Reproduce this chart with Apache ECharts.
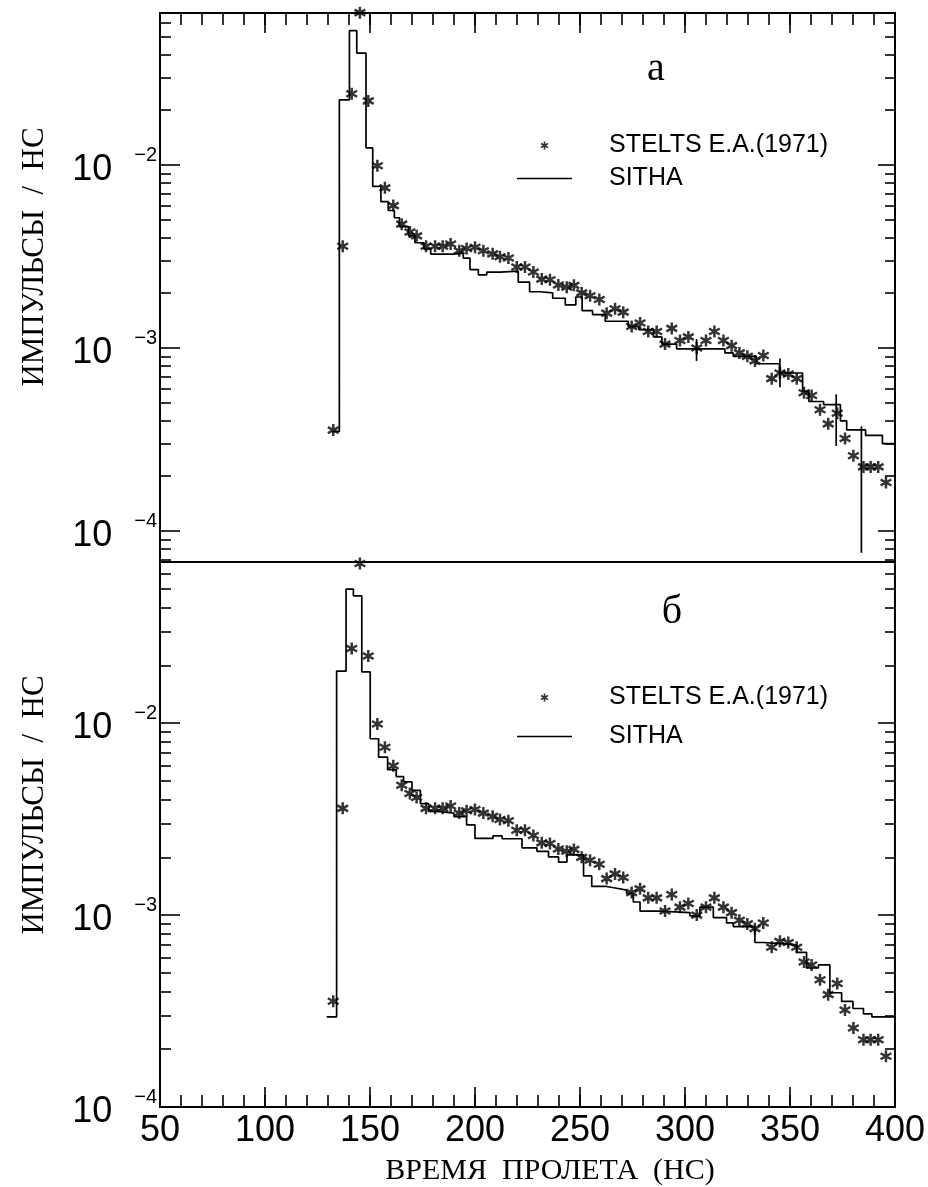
<!DOCTYPE html>
<html>
<head>
<meta charset="utf-8">
<script src="https://cdn.jsdelivr.net/npm/echarts@6.0.0/dist/echarts.min.js"></script>
<style>
  html, body { margin: 0; padding: 0; background: #fff; }
  #main { width: 928px; height: 1187px; }
</style>
</head>
<body>
<div id="main"></div>
<script>
// STELTS E.A.(1971): the same measured points are drawn in both panels
const stelTime = [132.5, 137, 141.3, 145.2, 149.2, 153.5, 157.1, 161.1, 165.1, 169,
  172.2, 176.7, 181, 184.6, 188.4, 192.5, 196, 200, 204, 208.4,
  211.9, 215.9, 219.9, 223.8, 227.8, 231.8, 235.7, 239.7, 243.7, 247.1,
  250.8, 254.8, 259.2, 262.7, 266.7, 270.6, 274.6, 278.6, 282.5, 286.5,
  290.5, 293.7, 297.6, 301.6, 305.6, 310, 314, 318.3, 322.2, 325.9,
  329.7, 333.3, 337.3, 341.3, 345.2, 349.2, 353.2, 356.7, 360.3, 364.3,
  368.2, 372.5, 376.2, 380.2, 385, 388.4, 392, 395.7];
const stelRate = [3.56e-4, 3.6e-3, 0.0245, 0.068, 0.0224, 0.0099, 0.0075, 0.0060, 0.00475, 0.0043,
  0.0041, 0.0036, 0.0036, 0.0036, 0.0037, 0.0034, 0.0035, 0.00355, 0.0034, 0.00327,
  0.00315, 0.0031, 0.00277, 0.00277, 0.0026, 0.00238, 0.00236, 0.00221, 0.00215, 0.0022,
  0.002, 0.00193, 0.00184, 0.00155, 0.00164, 0.00157, 0.00131, 0.00137, 0.00123, 0.00123,
  0.00105, 0.00128, 0.0011, 0.00115, 0.001, 0.0011, 0.00123, 0.0011, 0.00103, 0.00094,
  0.0009, 0.00085, 0.00091, 0.00068, 0.00073, 0.00072, 0.00068, 0.00057, 0.00055, 0.00046,
  0.000385, 0.00044, 0.00032, 0.000258, 0.000224, 0.000224, 0.000224, 0.000184];

// SITHA, panel a: bin edges (ns) and bin contents
const sithaEdgesA = [132, 135.4, 140.2, 143.7, 148.1, 151.3, 155.2, 158.7, 161.6, 164,
  168.3, 171.4, 175.7, 178.9, 189.7, 194.4, 197.6, 201.6, 205.6, 212,
  220.6, 226, 231, 237, 243, 248, 251, 256, 262, 273,
  278, 285, 289, 296, 319, 323, 334, 345, 356, 359,
  366, 374, 377, 386, 394, 400];
const sithaRateA = [3.5e-4, 0.0227, 0.0542, 0.0409, 0.0124, 0.00764, 0.0063, 0.00564, 0.00515, 0.0046,
  0.0041, 0.00376, 0.00347, 0.00326, 0.0033, 0.0031, 0.00268, 0.00251, 0.0026, 0.00263,
  0.00229, 0.00203, 0.0020, 0.00187, 0.00172, 0.0019, 0.0016, 0.00152, 0.0014, 0.00131,
  0.00126, 0.00115, 0.00105, 0.00099, 0.00094, 0.0009, 0.00082, 0.00073, 0.00058, 0.00051,
  0.00049, 0.0004, 0.000357, 0.000333, 0.0003];

// SITHA error bars, panel a
const errTimeA = [305.5, 345.2, 372, 384];
const errLowA = [0.00085, 0.00061, 0.000292, 0.000076];
const errHighA = [0.00112, 0.000875, 0.000558, 0.000373];

// SITHA, panel б
const sithaEdgesB = [129.4, 134.1, 138.6, 142.1, 146.1, 150.1, 154.1, 158.4, 162.5, 166,
  170, 174, 178, 182, 190, 196, 200, 208.6, 212.9, 222.4,
  229.5, 235, 239.8, 243.8, 251.7, 255.6, 262.7, 267.5, 272.2, 275.4,
  278.6, 288.1, 302.4, 307.1, 313.5, 319.8, 323, 333.3, 337.3, 345.2,
  353.2, 357.9, 363.5, 369, 374.6, 380, 385, 389, 395, 400];
const sithaRateB = [2.95e-4, 0.0187, 0.050, 0.0461, 0.0185, 0.0083, 0.00665, 0.00573, 0.00527, 0.00495,
  0.00447, 0.00381, 0.00347, 0.0034, 0.00326, 0.00295, 0.00251, 0.00259, 0.0025, 0.00224,
  0.00215, 0.00201, 0.00189, 0.00206, 0.0016, 0.00141, 0.00138, 0.00135, 0.0013, 0.00117,
  0.00105, 0.00103, 0.00099, 0.0011, 0.00097, 0.00091, 0.00087, 0.00072, 0.00071, 0.0007,
  0.00064, 0.00053, 0.00055, 0.000394, 0.000355, 0.000326, 0.000306, 0.000295, 0.000295];

const xRange = [50, 400];
const yRangeA = [6.77e-5, 0.0677];
const yRangeB = [1e-4, 0.0692];

const NUM_FONT = '"Liberation Sans", Arial, sans-serif';
const SERIF = '"Liberation Serif", "Times New Roman", serif';
const INK = '#000';

// asterisk made of three thin bars
function starPath(w) {
  let d = '';
  [90, 30, 150].forEach(deg => {
    const a = deg * Math.PI / 180;
    const c = Math.cos(a) * 5, s = Math.sin(a) * 5;
    const px = -Math.sin(a) * w, py = Math.cos(a) * w;
    const pts = [[c + px, s + py], [-c + px, -s + py], [-c - px, -s - py], [c - px, s - py]];
    d += 'M' + pts.map(p => p[0].toFixed(2) + ',' + p[1].toFixed(2)).join('L') + 'Z';
  });
  return 'path://' + d;
}
const STAR = starPath(1.0);
const DASH = 'path://M0,0H55V1.7H0Z';

function decades(r) {
  const out = [];
  for (let e = -6; e <= 0; e++) {
    const v = Math.pow(10, e);
    if (v >= r[0] * 0.999 && v <= r[1]) out.push(v);
  }
  return out;
}
function minors(r) {
  const out = [];
  for (let e = -6; e <= 0; e++) {
    for (let m = 2; m <= 9; m++) {
      const v = m * Math.pow(10, e);
      if (v > r[0] && v < r[1]) out.push(v);
    }
  }
  return out;
}

function expLabel(v) {
  const e = Math.log10(v);
  const r = Math.round(e);
  if (Math.abs(e - r) > 1e-6) return '';
  return '{b|10}{s|\u2212' + Math.abs(r) + '}';
}

const tickLine = { color: INK, width: 1.6 };

function xAxes(gridIndex, position, withLabels) {
  const base = {
    type: 'value', gridIndex: gridIndex, position: position,
    min: xRange[0], max: xRange[1],
    axisLine: { show: false }, splitLine: { show: false }
  };
  return [
    Object.assign({}, base, {
      interval: 10,
      axisTick: { show: true, inside: true, length: 12, lineStyle: tickLine },
      axisLabel: { show: false }
    }),
    Object.assign({}, base, {
      interval: 50,
      axisTick: { show: true, inside: true, length: 20, lineStyle: tickLine },
      axisLabel: {
        show: withLabels, margin: 6, color: INK, fontFamily: NUM_FONT, fontSize: 36,
        showMinLabel: true, showMaxLabel: true
      }
    })
  ];
}

function yAxes(gridIndex, r) {
  const base = {
    type: 'log', logBase: 10, gridIndex: gridIndex, min: r[0], max: r[1],
    axisLine: { show: false }, splitLine: { show: false }
  };
  const maj = decades(r), mnr = minors(r);
  return [
    Object.assign({}, base, {
      position: 'left',
      axisTick: { show: true, inside: true, length: 20, lineStyle: tickLine, customValues: maj },
      axisLabel: {
        show: true, customValues: maj, margin: 3, formatter: expLabel,
        rich: {
          b: { fontFamily: NUM_FONT, fontSize: 36, lineHeight: 40, color: INK, padding: [10, 0, 0, 0] },
          s: { fontFamily: NUM_FONT, fontSize: 20, lineHeight: 20, color: INK, verticalAlign: 'top', padding: [0, 0, 0, 22] }
        }
      }
    }),
    Object.assign({}, base, {
      position: 'left',
      axisTick: { show: true, inside: true, length: 11, lineStyle: tickLine, customValues: mnr },
      axisLabel: { show: false }
    }),
    Object.assign({}, base, {
      position: 'right',
      axisTick: { show: true, inside: true, length: 17, lineStyle: tickLine, customValues: maj },
      axisLabel: { show: false }
    }),
    Object.assign({}, base, {
      position: 'right',
      axisTick: { show: true, inside: true, length: 10, lineStyle: tickLine, customValues: mnr },
      axisLabel: { show: false }
    })
  ];
}

function stepData(edges, rate) {
  return edges.map((e, i) => [e, rate[Math.min(i, rate.length - 1)]]);
}
const stelPoints = stelTime.map((t, i) => [t, stelRate[i]]);

function legendFor(top, gap) {
  return {
    orient: 'vertical', left: 512, top: top,
    itemWidth: 55, itemHeight: 8, itemGap: gap, selectedMode: false,
    textStyle: { fontFamily: NUM_FONT, fontSize: 25, color: INK, padding: [0, 0, 0, 32] },
    data: [{ name: 'STELTS E.A.(1971)', icon: STAR }, { name: 'SITHA', icon: DASH }]
  };
}

function textEl(text, x, y, font, rotation) {
  return {
    type: 'text', x: x, y: y, rotation: rotation || 0,
    style: {
      text: text, font: font, fill: INK,
      align: 'center', verticalAlign: 'middle',
      textAlign: 'center', textVerticalAlign: 'middle'
    }
  };
}

const chart = echarts.init(document.getElementById('main'), null, { renderer: 'canvas' });
chart.setOption({
  backgroundColor: '#fff',
  animation: false,
  grid: [
    { left: 160, right: 33, top: 13, height: 549, show: true, borderColor: INK, borderWidth: 2, backgroundColor: 'transparent' },
    { left: 160, right: 33, top: 562, height: 545, show: true, borderColor: INK, borderWidth: 2, backgroundColor: 'transparent' }
  ],
  xAxis: [].concat(xAxes(0, 'top', false), xAxes(1, 'bottom', true)),
  yAxis: [].concat(yAxes(0, yRangeA), yAxes(1, yRangeB)),
  legend: [legendFor(128, 8), legendFor(680, 14)],
  graphic: [
    textEl('a', 656, 69, '40px ' + SERIF),
    textEl('б', 672, 612, '40px ' + SERIF),
    textEl('ИМПУЛЬСЫ  /  НС', 35, 257, '31px ' + SERIF, Math.PI / 2),
    textEl('ИМПУЛЬСЫ  /  НС', 35, 805, '31px ' + SERIF, Math.PI / 2),
    textEl('ВРЕМЯ  ПРОЛЕТА  (НС)', 550, 1171, '30px ' + SERIF)
  ],
  series: [
    {
      name: 'STELTS E.A.(1971)', type: 'scatter', xAxisIndex: 0, yAxisIndex: 0,
      symbol: STAR, symbolSize: 12, clip: false,
      itemStyle: { color: INK }, data: stelPoints
    },
    {
      name: 'SITHA', type: 'line', xAxisIndex: 0, yAxisIndex: 0,
      step: 'end', symbol: 'none', lineStyle: { color: INK, width: 1.7 },
      itemStyle: { color: INK }, data: stepData(sithaEdgesA, sithaRateA)
    },
    {
      name: 'SITHA', type: 'custom', xAxisIndex: 0, yAxisIndex: 0,
      data: errTimeA.map((t, i) => [t, errLowA[i], errHighA[i]]),
      encode: { x: 0, y: [1, 2] },
      renderItem: function (params, api) {
        const p1 = api.coord([api.value(0), api.value(1)]);
        const p2 = api.coord([api.value(0), api.value(2)]);
        return {
          type: 'line',
          shape: { x1: p1[0], y1: p1[1], x2: p2[0], y2: p2[1] },
          style: { stroke: INK, lineWidth: 1.7 }
        };
      }
    },
    {
      name: 'STELTS E.A.(1971)', type: 'scatter', xAxisIndex: 2, yAxisIndex: 4,
      symbol: STAR, symbolSize: 12, clip: false,
      itemStyle: { color: INK }, data: stelPoints
    },
    {
      name: 'SITHA', type: 'line', xAxisIndex: 2, yAxisIndex: 4,
      step: 'end', symbol: 'none', lineStyle: { color: INK, width: 1.7 },
      itemStyle: { color: INK }, data: stepData(sithaEdgesB, sithaRateB)
    }
  ]
});
</script>
</body>
</html>
